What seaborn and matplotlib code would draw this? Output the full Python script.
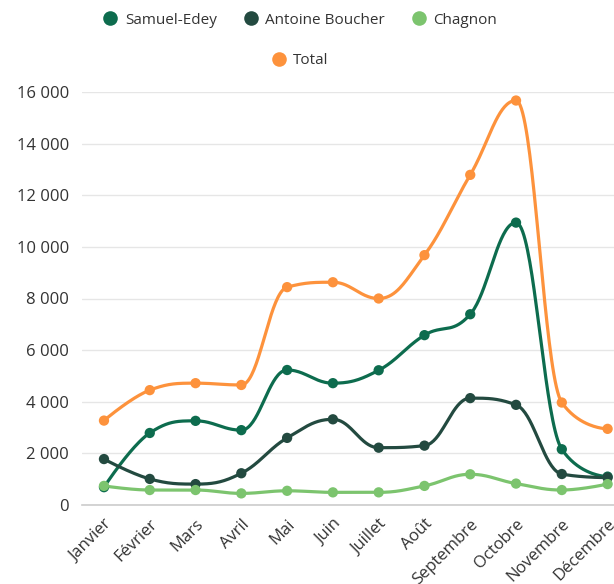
import numpy as np
import pandas as pd
import matplotlib
matplotlib.use("Agg")
import matplotlib.pyplot as plt
from matplotlib.lines import Line2D
from matplotlib.ticker import FuncFormatter
import seaborn as sns

# Données
mois = ["Janvier", "Février", "Mars", "Avril", "Mai", "Juin", "Juillet",
        "Août", "Septembre", "Octobre", "Novembre", "Décembre"]
samuel_edey = [690, 2790, 3260, 2900, 5230, 4720, 5220, 6580, 7390, 10940, 2160, 1100]
antoine_boucher = [1780, 1010, 810, 1230, 2600, 3320, 2220, 2300, 4140, 3880, 1200, 1060]
chagnon = [740, 580, 580, 450, 550, 490, 490, 740, 1190, 830, 580, 810]
total = [3270, 4450, 4720, 4650, 8440, 8630, 8000, 9680, 12790, 15670, 3970, 2950]

series = ["Samuel-Edey", "Antoine Boucher", "Chagnon", "Total"]
valeurs = [samuel_edey, antoine_boucher, chagnon, total]
couleurs = ["#0d6c4e", "#234a40", "#7cc46e", "#fd923c"]


# Courbe lissée façon "spline" (points de contrôle calculés à partir des voisins)
def spline(xs, ys, smoothing=1.5, n=40):
    xs = np.asarray(xs, float)
    ys = np.asarray(ys, float)
    m = len(xs)
    left = [(xs[i], ys[i]) for i in range(m)]
    right = [(xs[i], ys[i]) for i in range(m)]
    d = smoothing + 1
    for i in range(1, m - 1):
        px, py = xs[i], ys[i]
        lx, ly = xs[i - 1], ys[i - 1]
        nx, ny = xs[i + 1], ys[i + 1]
        lcx = (smoothing * px + lx) / d
        lcy = (smoothing * py + ly) / d
        rcx = (smoothing * px + nx) / d
        rcy = (smoothing * py + ny) / d
        if rcx != lcx:
            corr = (rcy - lcy) * (rcx - px) / (rcx - lcx) + py - rcy
            lcy += corr
            rcy += corr
        if lcy > ly and lcy > py:
            lcy = max(ly, py)
            rcy = 2 * py - lcy
        elif lcy < ly and lcy < py:
            lcy = min(ly, py)
            rcy = 2 * py - lcy
        if rcy > ny and rcy > py:
            rcy = max(ny, py)
            lcy = 2 * py - rcy
        elif rcy < ny and rcy < py:
            rcy = min(ny, py)
            lcy = 2 * py - rcy
        left[i] = (lcx, lcy)
        right[i] = (rcx, rcy)
    t = np.linspace(0, 1, n)
    ox, oy = [], []
    for i in range(m - 1):
        p0 = np.array([xs[i], ys[i]])
        p1 = np.array(right[i])
        p2 = np.array(left[i + 1])
        p3 = np.array([xs[i + 1], ys[i + 1]])
        b = ((1 - t) ** 3)[:, None] * p0 + (3 * (1 - t) ** 2 * t)[:, None] * p1 \
            + (3 * (1 - t) * t ** 2)[:, None] * p2 + (t ** 3)[:, None] * p3
        ox.extend(b[:, 0])
        oy.extend(b[:, 1])
    return np.array(ox), np.array(oy)


sns.set_style("white")
plt.rcParams["font.family"] = ["Open Sans", "DejaVu Sans"]

fig = plt.figure(figsize=(6.14, 5.84), dpi=100)
ax = fig.add_axes([82 / 614, 79 / 584, 532 / 614, 413 / 584])

x = np.arange(len(mois))
for nom, vals, col in zip(series, valeurs, couleurs):
    sx, sy = spline(x, vals)
    sns.lineplot(x=sx, y=sy, sort=False, estimator=None, color=col,
                 linewidth=2.3, ax=ax, clip_on=False, zorder=3)
    sns.scatterplot(x=x, y=vals, color=col, s=55, edgecolor="none",
                    ax=ax, clip_on=False, zorder=4)

ax.set_xlim(-0.48, 11.14)
ax.set_ylim(0, 16000)
ax.set_yticks(range(0, 16001, 2000))
ax.yaxis.set_major_formatter(FuncFormatter(lambda v, p: f"{int(v):,}".replace(",", " ")))
ax.set_xticks(x)
ax.set_xticklabels(mois, rotation=45, ha="right", rotation_mode="anchor")
ax.tick_params(axis="both", length=0, labelsize=12, labelcolor="#333333")
ax.tick_params(axis="x", pad=8)
ax.tick_params(axis="y", pad=9.5)
ax.grid(axis="y", color="#e6e6e6", linewidth=1)
ax.set_axisbelow(True)
for s in ["top", "right", "left"]:
    ax.spines[s].set_visible(False)
ax.spines["bottom"].set_color("#cccccc")
ax.spines["bottom"].set_linewidth(1.2)
ax.set_xlabel("")
ax.set_ylabel("")

# Légende
poignees = [Line2D([], [], marker="o", linestyle="", markersize=10.5,
                   markerfacecolor=c, markeredgecolor="none") for c in couleurs]
leg_opts = dict(loc="center", frameon=False, fontsize=11, handlelength=1.0,
                handletextpad=0.45, columnspacing=1.73, labelcolor="#333333")
fig.legend(poignees[:3], series[:3], ncol=3,
           bbox_to_anchor=(300 / 614, 1 - 20 / 584), **leg_opts)
fig.legend(poignees[3:], series[3:],
           bbox_to_anchor=(300 / 614, 1 - 61 / 584), **leg_opts)

fig.savefig("out.png", dpi=100)
